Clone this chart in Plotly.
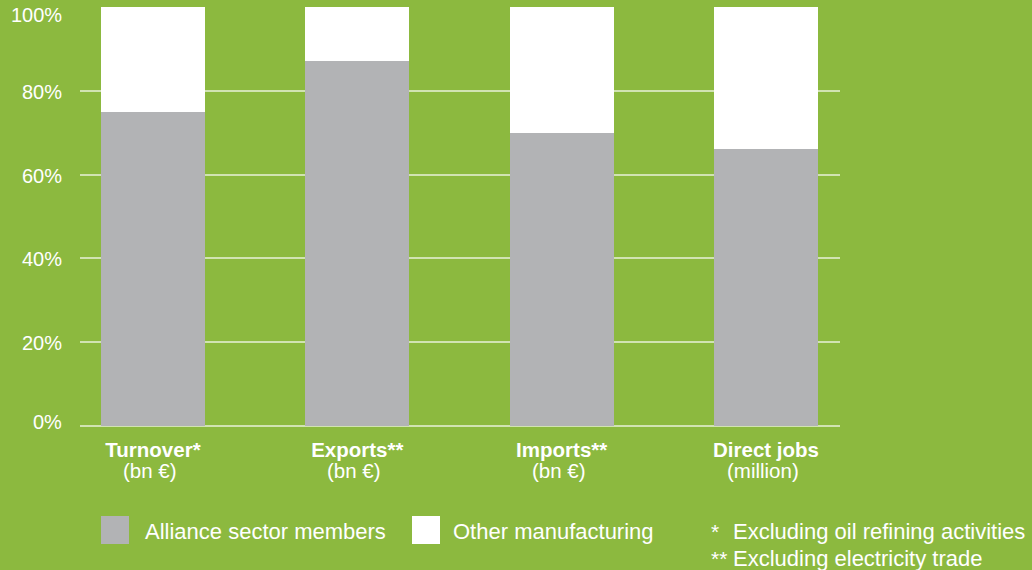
import plotly.graph_objects as go

# ---- data ----
categories = ["Turnover*", "Exports**", "Imports**", "Direct jobs"]
units = ["(bn €)", "(bn €)", "(bn €)", "(million)"]
alliance_share = [75, 87, 70, 66]
other_share = [25, 13, 30, 34]
y_tick_values = [0, 20, 40, 60, 80, 100]
y_tick_labels = ["0%", "20%", "40%", "60%", "80%", "100%"]
legend_names = ["Alliance sector members", "Other manufacturing"]
footnote_marks = ["*", "**"]
footnote_texts = ["Excluding oil refining activities", "Excluding electricity trade"]

# ---- style ----
BG = "rgb(140,185,63)"
GREY = "#b2b3b5"
WHITE = "#ffffff"
GRID = "rgba(255,255,255,0.6)"
FONT = "Liberation Sans, Arial, Helvetica, sans-serif"

W, H = 1032, 570
ML, MR, MT, MB = 80, 192, 7, 144
PW, PH = W - ML - MR, H - MT - MB

def px_x(px):
    return (px - ML) / PW

def px_y(py):
    return (H - MB - py) / PH

x_idx = list(range(len(categories)))
ticktext = [f"<b>{c}</b>" for c in categories]

fig = go.Figure()
fig.add_trace(go.Bar(x=x_idx, y=alliance_share, name=legend_names[0],
                     marker=dict(color=GREY, line=dict(width=0)), width=0.51))
fig.add_trace(go.Bar(x=x_idx, y=other_share, name=legend_names[1],
                     marker=dict(color=WHITE, line=dict(width=0)), width=0.51))

fig.update_layout(
    barmode="stack",
    width=W, height=H,
    margin=dict(l=ML, r=MR, t=MT, b=MB, pad=0),
    paper_bgcolor=BG, plot_bgcolor=BG,
    showlegend=False,
    font=dict(family=FONT, color="white", size=21),
    xaxis=dict(range=[-0.357, 3.362], tickvals=x_idx, ticktext=ticktext,
               showgrid=False, zeroline=False, showline=False,
               ticks="outside", ticklen=5, tickcolor="rgba(0,0,0,0)",
               tickfont=dict(size=20.5, color="white", family=FONT)),
    yaxis=dict(range=[0, 100], tickvals=y_tick_values, showticklabels=False,
               showgrid=True, gridcolor=GRID, gridwidth=1.5,
               zeroline=True, zerolinecolor=GRID, zerolinewidth=1.5,
               showline=False, fixedrange=True),
)

# second line of category labels (units)
for xi, u in zip(x_idx, units):
    fig.add_annotation(x=xi, xref="x", y=px_y(471), yref="paper", text=u,
                       showarrow=False, xanchor="center", yanchor="middle",
                       xshift=-3, font=dict(size=20.5, color="white", family=FONT))

# y tick labels
for v, lab in zip(y_tick_values, y_tick_labels):
    shift = -8 if v == 100 else (4 if v == 0 else -1)
    fig.add_annotation(x=0, xref="paper", y=v, yref="y", text=lab,
                       showarrow=False, xanchor="right", yanchor="middle",
                       xshift=-16, yshift=shift,
                       font=dict(size=20, color="white", family=FONT))

# legend swatches and labels
swatch_colors = [GREY, WHITE]
swatch_left = [101, 412]
text_left = [143, 451]
for col, sx, tx, name in zip(swatch_colors, swatch_left, text_left, legend_names):
    fig.add_shape(type="rect", xref="paper", yref="paper",
                  x0=px_x(sx), x1=px_x(sx + 28), y0=px_y(544), y1=px_y(516),
                  fillcolor=col, line=dict(width=0))
    fig.add_annotation(x=px_x(tx), xref="paper", y=px_y(531), yref="paper",
                       text=name, showarrow=False, xanchor="left", yanchor="middle",
                       font=dict(size=22, color="white", family=FONT))

# footnotes
for i, (m, t) in enumerate(zip(footnote_marks, footnote_texts)):
    yy = px_y(531 + 27 * i)
    fig.add_annotation(x=px_x(709), xref="paper", y=yy, yref="paper", text=m,
                       showarrow=False, xanchor="left", yanchor="middle",
                       font=dict(size=21, color="white", family=FONT))
    fig.add_annotation(x=px_x(731), xref="paper", y=yy, yref="paper", text=t,
                       showarrow=False, xanchor="left", yanchor="middle",
                       font=dict(size=22, color="white", family=FONT))

fig.write_html("out.html", config={"displayModeBar": False})
